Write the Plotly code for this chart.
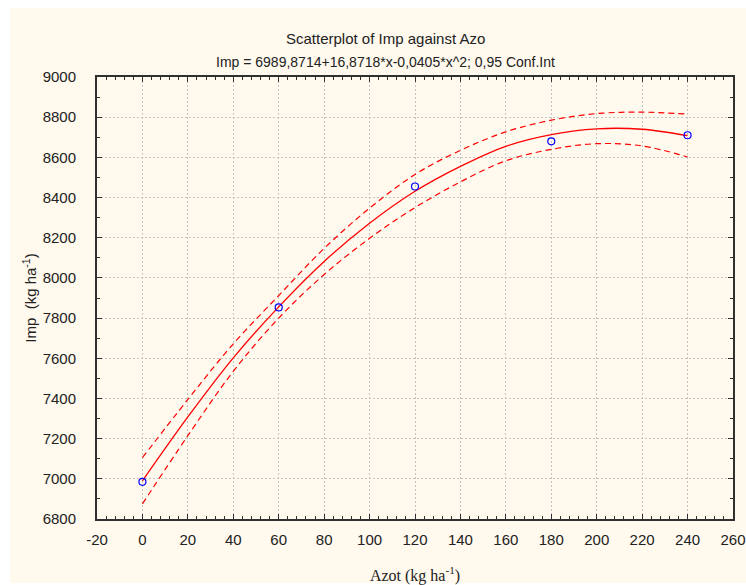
import plotly.graph_objects as go

# Observed data points
azot = [0, 60, 120, 180, 240]
imp = [6985, 7853, 8455, 8680, 8710]

# Fitted curve and 95% confidence band
fit_x = [0, 20, 40, 60, 80, 100, 120, 140, 160, 180, 200, 220, 240]
fit_y = [6990, 7308, 7602, 7856, 8082, 8272, 8431, 8555, 8655, 8713, 8742, 8740, 8708]
upper = [7105, 7395, 7672, 7912, 8147, 8347, 8515, 8635, 8727, 8785, 8818, 8825, 8815]
lower = [6875, 7215, 7535, 7800, 8017, 8197, 8350, 8478, 8583, 8640, 8668, 8657, 8602]

x_ticks = list(range(-20, 261, 20))
y_ticks = list(range(6800, 9001, 200))

fig = go.Figure()
fig.add_trace(go.Scatter(x=fit_x, y=upper, mode="lines", line=dict(color="#ff0000", width=1.2, dash="6px,4px", shape="spline"), hoverinfo="skip"))
fig.add_trace(go.Scatter(x=fit_x, y=lower, mode="lines", line=dict(color="#ff0000", width=1.2, dash="6px,4px", shape="spline"), hoverinfo="skip"))
fig.add_trace(go.Scatter(x=fit_x, y=fit_y, mode="lines", line=dict(color="#ff0000", width=1.3, shape="spline")))
fig.add_trace(go.Scatter(x=azot, y=imp, mode="markers", marker=dict(symbol="circle-open", size=7, color="#0000ff", line=dict(width=1.2, color="#0000ff"))))

axis_common = dict(
    showline=True, linecolor="#303030", linewidth=2, mirror="allticks",
    ticks="inside", ticklen=5, tickcolor="#303030", tickwidth=1,
    showgrid=True, gridcolor="#c4c4c4", griddash="2px,2px", gridwidth=1,
    zeroline=False, automargin=False,
    tickfont=dict(family="Liberation Sans", size=15, color="#222222"),
)

fig.update_xaxes(range=[-20, 260], tickvals=x_ticks, ticktext=[str(v) for v in x_ticks],
                 ticklabelstandoff=6,
                 minor=dict(dtick=4, ticks="inside", ticklen=3, tickcolor="#303030", showgrid=False),
                 title=dict(text="Azot (kg ha<sup>-1</sup>)", font=dict(family="Liberation Serif", size=16, color="#222222"), standoff=23),
                 **axis_common)
fig.update_yaxes(range=[6800, 9000], tickvals=y_ticks, ticktext=[str(v) for v in y_ticks],
                 ticklabelstandoff=16,
                 minor=dict(dtick=100, ticks="inside", ticklen=3, tickcolor="#303030", showgrid=False),
                 title=dict(text="Imp  (kg ha<sup>-1</sup>)", font=dict(family="Liberation Sans", size=15, color="#222222"), standoff=2),
                 **axis_common)

# cream panel behind everything (white strip at top and left like the reference)
fig.add_shape(type="rect", xref="paper", yref="paper",
              x0=-87 / 636, x1=1 + 13 / 636, y0=-64 / 442, y1=1 + 69 / 442,
              fillcolor="#fff9ee", line=dict(width=0), layer="below")

fig.add_annotation(text="Scatterplot of Imp against Azo", xref="paper", yref="paper", x=0.454, y=1.111,
                   showarrow=False, font=dict(family="Liberation Sans Narrow, Liberation Sans", size=15, color="#222222"))
fig.add_annotation(text="Imp = 6989,8714+16,8718*x-0,0405*x^2; 0,95 Conf.Int", xref="paper", yref="paper", x=0.454, y=1.057,
                   showarrow=False, font=dict(family="Liberation Sans Narrow, Liberation Sans", size=14, color="#222222"))

fig.update_layout(
    width=746, height=585,
    margin=dict(l=97, r=13, t=77, b=66),
    paper_bgcolor="#ffffff", plot_bgcolor="#ffffff",
    showlegend=False,
)

fig.write_html("out.html", config={"displayModeBar": False},
               post_script="document.body.style.margin='0';document.body.style.overflow='hidden';")
